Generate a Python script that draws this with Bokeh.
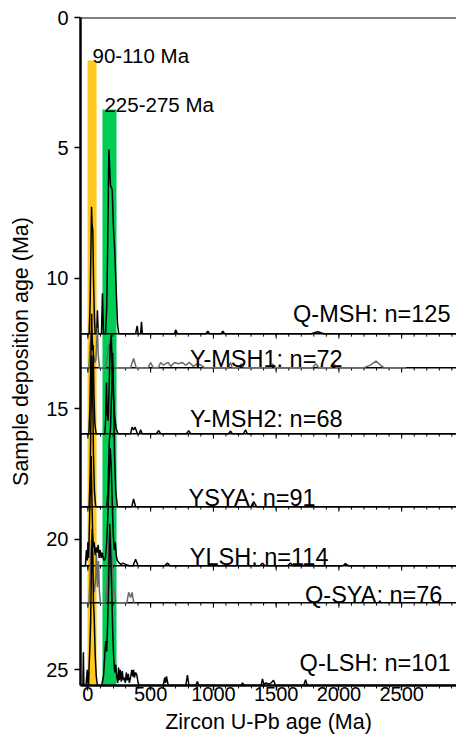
from bokeh.plotting import figure
from bokeh.models import Range1d, SingleIntervalTicker, Label, Span, FixedTicker
from bokeh.embed import file_html
from bokeh.resources import INLINE

FONT = "Liberation Sans"

# ---------------- data ----------------
samples = ["Q-MSH", "Y-MSH1", "Y-MSH2", "YSYA", "YLSH", "Q-SYA", "Q-LSH"]
counts = [125, 72, 68, 91, 114, 76, 101]
depo_age = [12.12, 13.42, 15.95, 18.75, 21.01, 22.43, 25.6]
curve_colors = ["black", "#6a6a6a", "black", "black", "black", "#6a6a6a", "black"]
label_x = [2889, 2029, 2029, 1814, 1917, 2825, 2889]
label_y = [11.35, 13.07, 15.38, 18.40, 20.67, 22.12, 24.73]

band_names = ["90-110 Ma", "225-275 Ma"]
band_left = [-3, 116]
band_right = [69, 228]
band_top = [1.65, 3.53]
band_label_x = [37, 132]
band_label_y = [1.46, 3.34]
band_colors = ["#FFC91F", "#00CC58"]

# (zircon age Ma, curve height in deposition-age units)
qmsh_pts = [(-59, 0), (10, 0), (18, 1.2), (24, 3.2), (29, 4.87), (33, 4.2), (39, 3.95), (45, 2.0), (52, 0.6),
            (58, 0), (70, 0), (76, 0.9), (82, 0), (108, 0), (116, 1.55), (124, 0), (140, 0), (150, 1.0),
            (158, 3.5), (167, 7.06), (174, 6.3), (180, 5.68), (188, 5.6), (194, 5.5), (202, 4.2), (214, 3.18),
            (225, 1.73), (236, 0.38), (246, 0), (380, 0), (393, 0.3), (400, 0), (420, 0), (427, 0.46),
            (434, 0), (450, 0), (690, 0), (700, 0.15), (712, 0), (940, 0), (955, 0.1), (970, 0), (1060, 0),
            (1075, 0.1), (1090, 0), (1780, 0), (1830, 0.08), (1880, 0), (2937, 0)]

ymsh1_pts = [(-59, 0), (8, 0), (18, 0.8), (28, 1.4), (36, 1.0), (46, 0.5), (56, 0.2), (64, 0.3), (70, 1.0),
             (76, 1.53), (82, 0.5), (92, 0), (140, 0), (155, 0.4), (165, 0.9), (175, 0.73), (185, 0.4),
             (195, 0.1), (215, 0), (340, 0), (364, 0.35), (385, 0), (480, 0), (500, 0.2), (520, 0), (560, 0),
             (580, 0.2), (600, 0.1), (640, 0.2), (660, 0.05), (690, 0.2), (720, 0.15), (750, 0.2), (780, 0.1),
             (810, 0.2), (840, 0.05), (870, 0.15), (900, 0.1), (930, 0), (1120, 0), (1136, 0.2), (1150, 0),
             (1200, 0), (1224, 0.15), (1245, 0), (1460, 0), (1472, 0.15), (1490, 0), (1790, 0), (1816, 0.15),
             (1840, 0), (1940, 0), (1960, 0.15), (1980, 0), (2200, 0), (2250, 0.1), (2296, 0.25), (2330, 0.1),
             (2360, 0), (2536, 0)]

ymsh2_pts = [(-59, 0), (8, 0), (16, 1.0), (24, 3.0), (30, 4.6), (36, 3.2), (42, 3.4), (48, 1.5), (55, 0.4),
             (65, 0), (135, 0), (142, 0.6), (148, 1.96), (154, 0.8), (162, 0.5), (170, 2.0), (178, 3.4),
             (186, 3.8), (194, 2.6), (202, 1.6), (212, 0.7), (225, 0.2), (240, 0), (340, 0), (352, 0.25),
             (364, 0.15), (376, 0.25), (395, 0), (410, 0), (420, 0.15), (432, 0), (545, 0), (564, 0.12),
             (580, 0), (785, 0), (803, 0.12), (820, 0), (1120, 0), (1137, 0.1), (1150, 0), (1240, 0),
             (1256, 0.15), (1270, 0), (2937, 0)]

ysya_pts = [(-59, 0), (10, 0), (18, 1.2), (26, 4.0), (32, 5.8), (38, 4.5), (44, 2.0), (52, 0.6), (62, 0),
            (150, 0), (160, 0.6), (170, 2.5), (180, 3.0), (190, 4.5), (197, 5.9), (205, 4.2), (212, 2.0),
            (222, 0.6), (235, 0), (350, 0), (364, 0.3), (380, 0), (1300, 0), (1321, 0.2), (1345, 0), (2937, 0)]

ylsh_pts = [(-59, 0), (-20, 0), (-12, 0.6), (-5, 0.2), (0, 0.9), (6, 0.3), (12, 1.5), (20, 3.2), (26, 4.2),
            (32, 2.5), (38, 1.2), (44, 0.7), (50, 0.9), (58, 0.4), (66, 0.7), (74, 0.5), (82, 0.8), (90, 0.3),
            (98, 0.6), (106, 0.3), (114, 0.5), (122, 0.3), (130, 0.2), (140, 0.3), (150, 0.9), (160, 2.0),
            (170, 3.5), (178, 4.5), (186, 3.8), (194, 2.4), (202, 1.2), (210, 0.6), (218, 0.9), (226, 0.4),
            (234, 0.2), (242, 0.15), (250, 0.1), (265, 0.05), (280, 0.1), (300, 0.05), (330, 0), (360, 0),
            (380, 0.25), (400, 0), (610, 0), (634, 0.1), (655, 0), (1370, 0), (1392, 0.1), (1410, 0),
            (1590, 0), (1614, 0.1), (1635, 0), (2030, 0), (2052, 0.08), (2075, 0), (2937, 0)]

qsya_pts = [(-59, 0), (8, 0), (16, 0.8), (24, 2.0), (32, 2.6), (40, 1.2), (50, 0.4), (60, 0.8), (68, 1.9),
            (76, 0.6), (84, 1.6), (92, 0.4), (100, 0), (140, 0), (150, 0.5), (160, 1.5), (170, 2.4), (180, 2.8),
            (190, 1.8), (200, 0.8), (212, 0.3), (225, 0), (310, 0), (325, 0.4), (340, 0.2), (352, 0.4), (365, 0)]

qlsh_pts = [(-59, 0), (-40, 0), (-36, 1.27), (-32, 0), (-28, 0), (-15, 0), (-5, 0.6), (0, 0.1), (5, 0),
            (10, 0.8), (16, 1.5), (22, 2.5), (28, 4.5), (34, 6.0), (38, 5.2), (44, 3.2), (50, 2.6), (58, 1.2),
            (66, 0.4), (75, 0), (90, 0), (110, 0), (125, 0.4), (135, 1.2), (142, 1.7), (150, 1.3), (158, 2.5),
            (166, 4.0), (174, 6.2), (182, 5.0), (190, 3.6), (198, 2.0), (206, 1.0), (214, 0.5), (222, 0.8),
            (230, 0.3), (238, 0.1), (244, 0.69), (250, 0.2), (258, 0.6), (266, 0.15), (274, 0.55), (282, 0.2),
            (290, 0.3), (298, 0.1), (306, 0.5), (314, 0.2), (322, 0.45), (330, 0.1), (340, 0.3), (350, 0.6),
            (358, 0.35), (364, 0.6), (370, 0.3), (380, 0.5), (390, 0.4), (400, 0.1), (410, 0), (600, 0),
            (612, 0.3), (619, 0.1), (626, 0.35), (640, 0), (780, 0), (793, 0.4), (805, 0), (860, 0),
            (872, 0.15), (885, 0), (1220, 0), (1232, 0.1), (1245, 0), (1380, 0), (1391, 0.25), (1402, 0.05),
            (1420, 0.1), (1440, 0.05), (1460, 0.1), (1479, 0.2), (1495, 0), (1720, 0), (1734, 0.22),
            (1748, 0), (2937, 0)]

curve_points = [qmsh_pts, ymsh1_pts, ymsh2_pts, ysya_pts, ylsh_pts, qsya_pts, qlsh_pts]

x_min, x_max = -59, 2937
y_top, y_bottom = 0, 25.6
minor_ticks = list(range(0, 3000, 100))
major_ticks = list(range(0, 3000, 500))
y_ticks = [0, 5, 10, 15, 20, 25]

# ---------------- figure ----------------
p = figure(width=456, height=740, output_backend="svg", toolbar_location=None,
           x_range=Range1d(x_min, x_max), y_range=Range1d(y_bottom, y_top),
           min_border_left=80, min_border_top=17, min_border_right=0, min_border_bottom=55)
p.grid.visible = False
p.outline_line_color = None
p.background_fill_color = "white"

# bands
for l, r, t, c in zip(band_left, band_right, band_top, band_colors):
    p.quad(left=l, right=r, top=t, bottom=y_bottom, fill_color=c, line_color=None)
for name, lx, ly in zip(band_names, band_label_x, band_label_y):
    p.add_layout(Label(x=lx, y=ly, text=name, text_font=FONT, text_font_size="20.5px",
                       text_align="left", text_baseline="alphabetic", text_color="black"))

# baselines with small ticks
tick_len_minor = 0.11
tick_len_major = 0.19
for b in depo_age[:-1]:
    p.segment(x0=[x_min], y0=[b], x1=[x_max], y1=[b], line_color="black", line_width=1.6)
    p.segment(x0=minor_ticks, y0=[b] * len(minor_ticks), x1=minor_ticks,
              y1=[b + tick_len_minor] * len(minor_ticks), line_color="black", line_width=1)
    p.segment(x0=major_ticks, y0=[b] * len(major_ticks), x1=major_ticks,
              y1=[b + tick_len_major] * len(major_ticks), line_color="black", line_width=1)

# density curves
for b, pts, c in zip(depo_age, curve_points, curve_colors):
    ages = [a for a, h in pts]
    ys = [b - h for a, h in pts]
    p.line(ages, ys, line_color=c, line_width=1.5)

# sample labels
for s, n, lx, ly in zip(samples, counts, label_x, label_y):
    p.add_layout(Label(x=lx, y=ly, text=f"{s}: n={n}", text_font=FONT, text_font_size="23.5px",
                       text_align="right", text_baseline="alphabetic", text_color="black"))

# top border
p.add_layout(Span(location=y_top, dimension="width", line_color="black", line_width=2))

# axes
p.xaxis.ticker = SingleIntervalTicker(interval=500, num_minor_ticks=5)
p.xaxis.axis_label = "Zircon U-Pb age (Ma)"
p.yaxis.ticker = FixedTicker(ticks=y_ticks)
p.yaxis.axis_label = "Sample deposition age (Ma)"
for ax in (p.xaxis[0], p.yaxis[0]):
    ax.axis_line_width = 2.5
    ax.axis_line_color = "black"
    ax.major_tick_line_color = "black"
    ax.major_tick_line_width = 1.5
    ax.major_label_text_font = FONT
    ax.major_label_text_font_size = "20px"
    ax.major_label_text_color = "black"
    ax.axis_label_text_font = FONT
    ax.axis_label_text_font_size = "21.5px"
    ax.axis_label_text_font_style = "normal"
    ax.axis_label_text_color = "black"
    ax.major_tick_in = 0
p.xaxis.major_tick_out = 5
p.xaxis.minor_tick_out = 3
p.xaxis.minor_tick_in = 0
p.xaxis.minor_tick_line_color = "black"
p.xaxis.major_label_standoff = -4
p.xaxis.axis_label_standoff = 6
p.yaxis.major_tick_out = 6
p.yaxis.minor_tick_line_color = None
p.yaxis.major_label_standoff = 6
p.yaxis.axis_label_standoff = 10

open("out.html", "w").write(file_html(p, INLINE))
